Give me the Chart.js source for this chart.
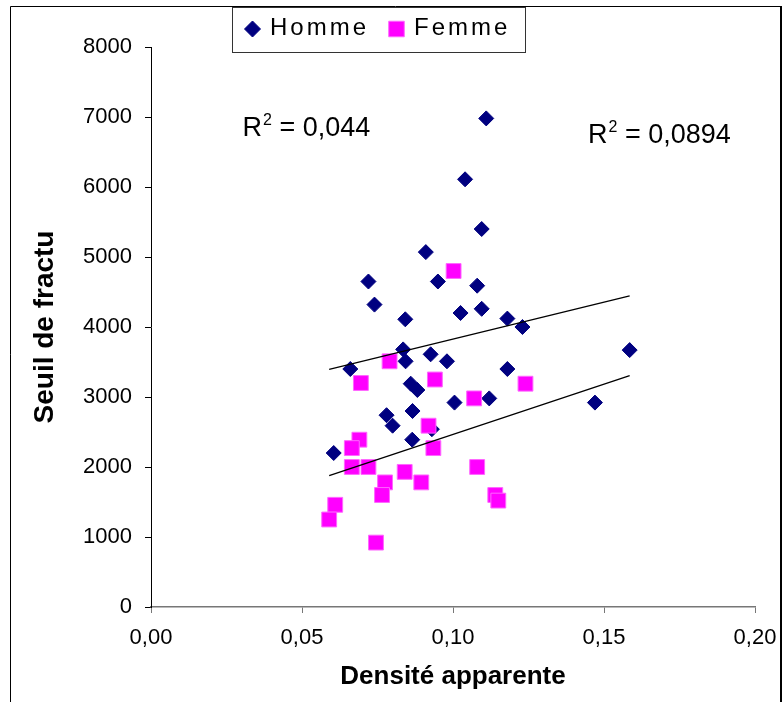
<!DOCTYPE html>
<html>
<head>
<meta charset="utf-8">
<title>Seuil de fracture / densité apparente</title>
<script src="https://cdn.jsdelivr.net/npm/chart.js@4.4.1/dist/chart.umd.min.js"></script>
<style>
  html, body { margin: 0; padding: 0; background: #fff; }
  #chart { display: block; }
</style>
</head>
<body>
<canvas id="chart" width="784" height="702"></canvas>
<script>
// densité apparente (x) / seuil de fracture (y)
var hommeDensite = [0.111, 0.104, 0.1095, 0.091, 0.072, 0.095, 0.108, 0.074, 0.1025, 0.1095,
                    0.0842, 0.118, 0.123, 0.0835, 0.1585, 0.0926, 0.0843, 0.098, 0.066, 0.118,
                    0.086, 0.0882, 0.1005, 0.112, 0.147, 0.078, 0.0866, 0.080, 0.093, 0.0865, 0.0605];
var hommeSeuil   = [6980, 6110, 5400, 5070, 4650, 4650, 4590, 4320, 4200, 4260,
                    4110, 4120, 4000, 3680, 3670, 3610, 3510, 3510, 3400, 3400,
                    3190, 3100, 2920, 2980, 2920, 2740, 2800, 2590, 2540, 2390, 2200];

var femmeDensite = [0.1002, 0.079, 0.0695, 0.094, 0.107, 0.124, 0.0919, 0.069, 0.0665, 0.0935, 0.0665,
                    0.072, 0.084, 0.108, 0.0775, 0.0895, 0.0765, 0.114, 0.115, 0.061, 0.059, 0.0745];
var femmeSeuil   = [4800, 3510, 3200, 3250, 2980, 3190, 2590, 2390, 2270, 2270, 2000,
                    2000, 1930, 2000, 1780, 1780, 1600, 1600, 1520, 1460, 1250, 920];

// droites de tendance, valeurs aux deux bouts
var trendDensite = [0.059, 0.1585];
var hommeTrend = [3396, 4443];
var femmeTrend = [1876, 3304];

// coefficients affichés et leur point d'ancrage
var r2Texte   = ["0,044", "0,0894"];
var r2Densite = [0.0303, 0.1447];
var r2Seuil   = [6730, 6630];

var FONT = "'Liberation Sans', Arial, sans-serif";
Chart.defaults.font.family = FONT;
Chart.defaults.color = '#000';

function points(xs, ys) {
  return xs.map(function(x, i) { return { x: x, y: ys[i] }; });
}

// cadre autour du graphique (pas de bord en bas)
var cadre = {
  id: 'cadre',
  beforeDraw: function(chart) {
    var ctx = chart.ctx;
    ctx.save();
    ctx.fillStyle = '#fff';
    ctx.fillRect(0, 0, chart.width, chart.height);
    ctx.strokeStyle = '#000';
    ctx.lineWidth = 1;
    ctx.beginPath();
    ctx.moveTo(10.5, chart.height);
    ctx.lineTo(10.5, 6.5);
    ctx.lineTo(780.5, 6.5);
    ctx.stroke();
    ctx.lineWidth = 2;
    ctx.beginPath();
    ctx.moveTo(781, 6);
    ctx.lineTo(781, chart.height);
    ctx.stroke();
    ctx.restore();
  }
};

// légende encadrée en haut
var legende = {
  id: 'legende',
  afterDraw: function(chart) {
    var ctx = chart.ctx;
    var items = [
      { ds: chart.data.datasets[0], mx: 252.5, tx: 270 },
      { ds: chart.data.datasets[1], mx: 396.5, tx: 414 }
    ];
    ctx.save();
    ctx.fillStyle = '#fff';
    ctx.fillRect(232, 7, 293, 45);
    ctx.strokeStyle = '#333';
    ctx.lineWidth = 1;
    ctx.strokeRect(232.5, 7.5, 293, 45);
    items.forEach(function(it) {
      ctx.fillStyle = it.ds.backgroundColor;
      ctx.strokeStyle = it.ds.borderColor;
      Chart.helpers.drawPoint(ctx, {
        pointStyle: it.ds.pointStyle,
        radius: it.ds.pointStyle === 'rect' ? 11 : 8,
        rotation: 0,
        borderWidth: it.ds.borderWidth
      }, it.mx, 29);
      ctx.fillStyle = '#000';
      ctx.font = '24px ' + FONT;
      ctx.textBaseline = 'middle';
      ctx.letterSpacing = '3px';
      ctx.fillText(it.ds.label, it.tx, 28);
    });
    ctx.restore();
  }
};

// R² des droites de tendance
var r2 = {
  id: 'r2',
  afterDatasetsDraw: function(chart) {
    var ctx = chart.ctx;
    var xs = chart.scales.x, ys = chart.scales.y;
    ctx.save();
    ctx.fillStyle = '#000';
    ctx.textBaseline = 'alphabetic';
    r2Texte.forEach(function(t, i) {
      var x = xs.getPixelForValue(r2Densite[i]);
      var y = ys.getPixelForValue(r2Seuil[i]);
      ctx.font = '27px ' + FONT;
      ctx.fillText('R', x, y);
      x += ctx.measureText('R').width;
      ctx.font = '16px ' + FONT;
      ctx.fillText('2', x + 1, y - 11);
      x += ctx.measureText('2').width + 1;
      ctx.font = '27px ' + FONT;
      ctx.fillText(' = ' + t, x, y);
    });
    ctx.restore();
  }
};

var ctx = document.getElementById('chart').getContext('2d');
var chart = new Chart(ctx, {
  type: 'scatter',
  data: {
    datasets: [
      {
        label: 'Homme',
        data: points(hommeDensite, hommeSeuil),
        pointStyle: 'rectRot',
        pointRadius: 7.5,
        pointHoverRadius: 7.5,
        backgroundColor: '#000080',
        borderColor: '#000080',
        borderWidth: 1,
        order: 2
      },
      {
        label: 'Femme',
        data: points(femmeDensite, femmeSeuil),
        pointStyle: 'rect',
        pointRadius: 10.5,
        pointHoverRadius: 10.5,
        backgroundColor: '#ff00ff',
        borderColor: '#ff66ff',
        borderWidth: 1,
        order: 1
      },
      {
        type: 'line',
        label: 'tendance Homme',
        data: points(trendDensite, hommeTrend),
        borderColor: '#000',
        borderWidth: 1.3,
        pointRadius: 0,
        fill: false,
        order: 0
      },
      {
        type: 'line',
        label: 'tendance Femme',
        data: points(trendDensite, femmeTrend),
        borderColor: '#000',
        borderWidth: 1.3,
        pointRadius: 0,
        fill: false,
        order: 0
      }
    ]
  },
  options: {
    responsive: false,
    animation: false,
    devicePixelRatio: 1,
    layout: { padding: { top: 47, left: 0, right: 29, bottom: 0 } },
    plugins: {
      legend: { display: false },
      tooltip: { enabled: false }
    },
    scales: {
      x: {
        type: 'linear',
        min: 0,
        max: 0.2,
        afterFit: function(s) {
          s.height = 95;
          // le libellé 0,20 peut déborder à droite
          s.paddingLeft = 0;
          s.paddingRight = 0;
        },
        ticks: {
          stepSize: 0.05,
          padding: 12,
          font: { size: 22 },
          callback: function(v) { return v.toFixed(2).replace('.', ','); }
        },
        grid: { drawOnChartArea: false, tickLength: 6, color: '#777' },
        border: { color: '#777', width: 1.5 },
        title: {
          display: true,
          text: 'Densité apparente',
          font: { size: 26, weight: 'bold' },
          padding: { top: 0, bottom: 10 }
        }
      },
      y: {
        min: 0,
        max: 8000,
        afterFit: function(s) { s.width = 151; },
        ticks: {
          stepSize: 1000,
          padding: 13,
          font: { size: 22 },
          callback: function(v) { return String(v); }
        },
        grid: { drawOnChartArea: false, tickLength: 6, color: '#000' },
        border: { color: '#000', width: 1 },
        title: {
          display: true,
          text: 'Seuil de fractu',
          font: { size: 28, weight: 'bold' },
          padding: { top: 28, bottom: 0 }
        }
      }
    }
  },
  plugins: [cadre, r2, legende]
});
</script>
</body>
</html>
